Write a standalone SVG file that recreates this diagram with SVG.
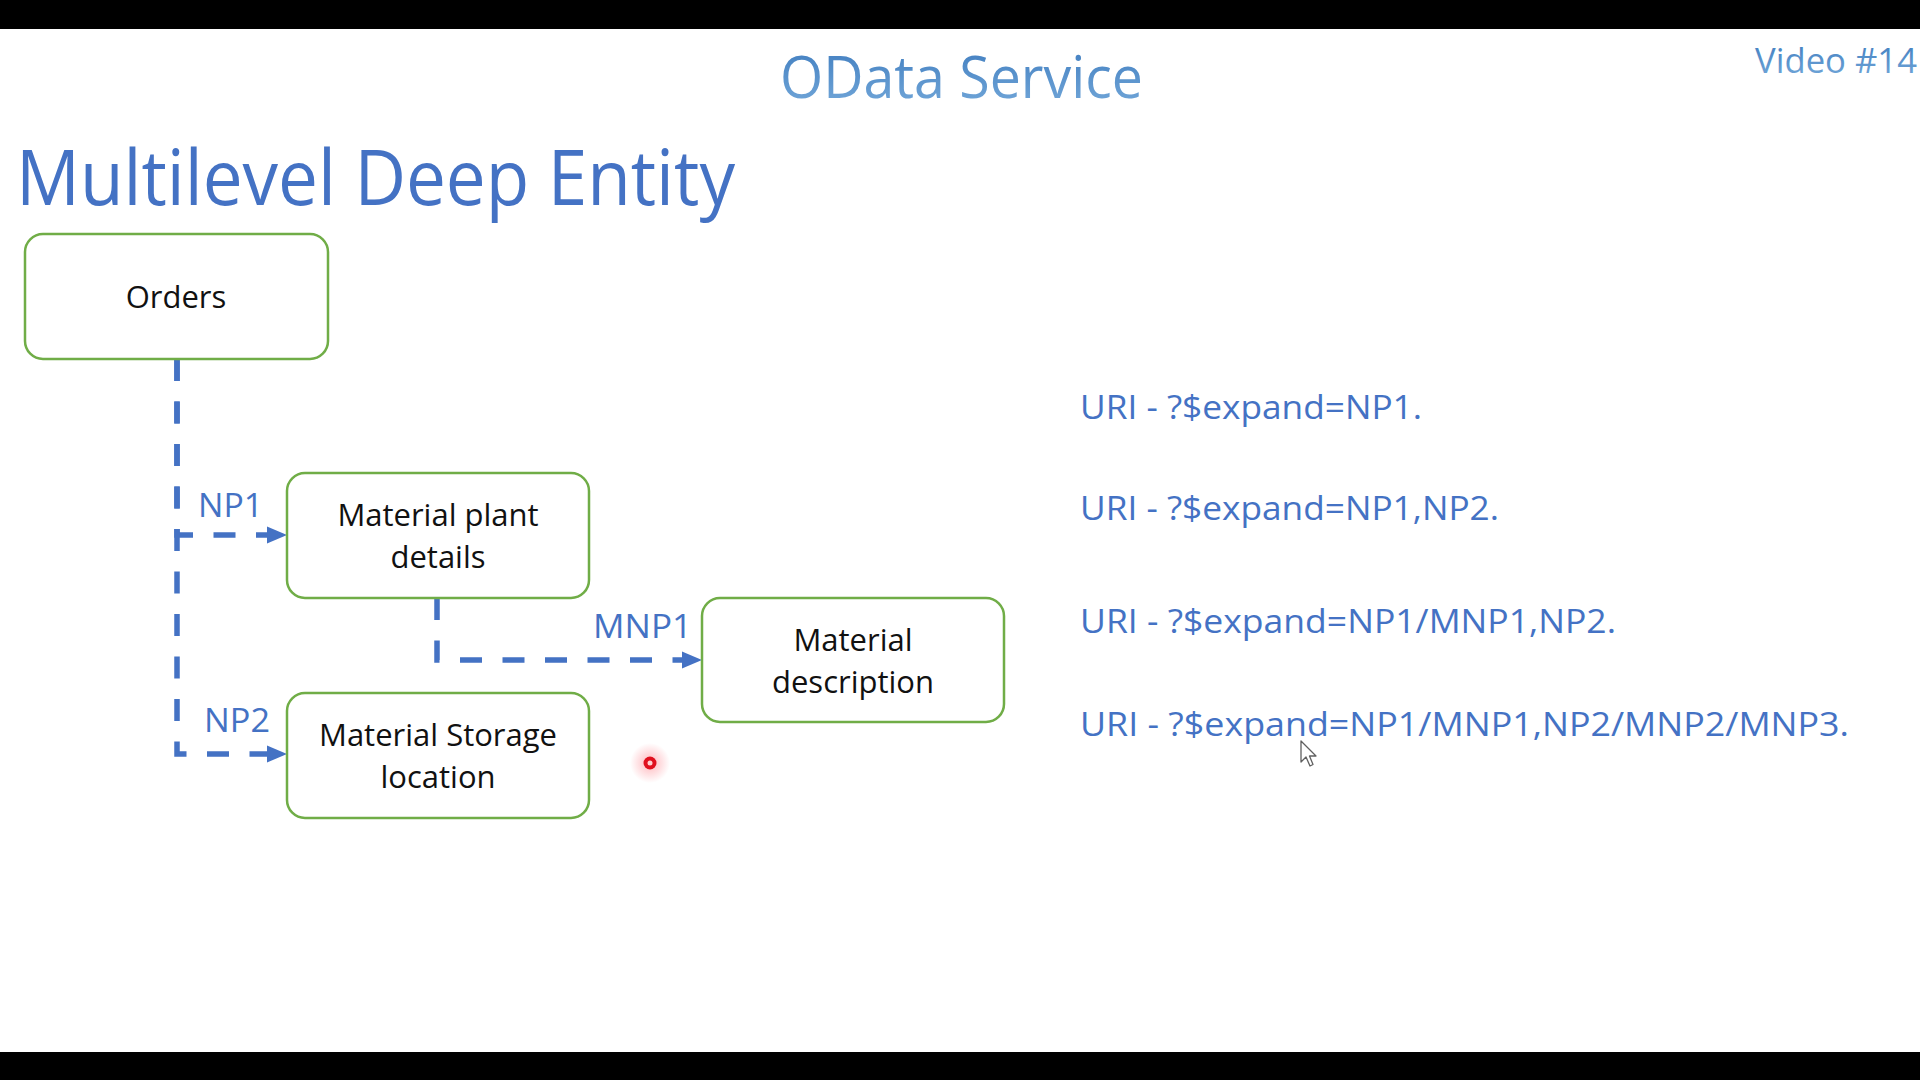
<svg xmlns="http://www.w3.org/2000/svg" width="1920" height="1080" viewBox="0 0 1920 1080">
  <defs>
    <style>
      .box { fill: #ffffff; stroke: #70ad47; stroke-width: 2.5; }
      .boxText { font-family: "Open Sans", "Noto Sans", sans-serif; font-size: 31px; fill: #111111; text-anchor: middle; }
      .lbl { font-family: "Open Sans", "Noto Sans", sans-serif; font-size: 32px; fill: #4472c4; }
      .uri { font-family: "Open Sans", "Noto Sans", sans-serif; font-size: 32px; fill: #4472c4; }
      .conn { fill: none; stroke: #4472c4; stroke-width: 5.5; stroke-dasharray: 22 20.5; marker-end: url(#arrow); }
      .heading { font-family: "Open Sans", "Noto Sans", sans-serif; fill: url(#titleGrad); }
    </style>
    <linearGradient id="titleGrad" x1="0" y1="0" x2="0" y2="1">
      <stop offset="0" stop-color="#3a78bc"/>
      <stop offset="1" stop-color="#78acdc"/>
    </linearGradient>
    <radialGradient id="glow">
      <stop offset="0" stop-color="#ff3040" stop-opacity="0.35"/>
      <stop offset="1" stop-color="#ff3040" stop-opacity="0"/>
    </radialGradient>
    <marker id="arrow" markerUnits="userSpaceOnUse" markerWidth="22" markerHeight="20" refX="0" refY="9" orient="auto" viewBox="0 0 22 18">
      <path d="M0,0.5 L20,9 L0,17.5 z" fill="#4472c4"/>
    </marker>
  </defs>

  <rect x="0" y="0" width="1920" height="1080" fill="#ffffff"/>
  <rect x="0" y="0" width="1920" height="29" fill="#000000"/>
  <rect x="0" y="1052" width="1920" height="28" fill="#000000"/>

  <g id="header">
    <text class="heading" x="780" y="98" font-size="58" textLength="363" lengthAdjust="spacingAndGlyphs">OData Service</text>
    <text class="heading" x="1755" y="73" font-size="35" textLength="162" lengthAdjust="spacingAndGlyphs">Video #14</text>
    <text x="16" y="205" font-family="Open Sans, Noto Sans, sans-serif" font-size="76" fill="#4472c4" textLength="719" lengthAdjust="spacingAndGlyphs">Multilevel Deep Entity</text>
  </g>

  <g id="connectors">
    <path class="conn" d="M177,359 V535 H267"/>
    <path class="conn" d="M177,359 V754 H267"/>
    <path class="conn" d="M437,598 V660 H682"/>
    <text class="lbl" x="198" y="517" textLength="65" lengthAdjust="spacingAndGlyphs">NP1</text>
    <text class="lbl" x="593" y="638" textLength="99" lengthAdjust="spacingAndGlyphs">MNP1</text>
    <text class="lbl" x="204" y="732" textLength="66" lengthAdjust="spacingAndGlyphs">NP2</text>
  </g>

  <g id="orders">
    <rect class="box" x="25" y="234" width="303" height="125" rx="18"/>
    <text class="boxText" x="176" y="308">Orders</text>
  </g>

  <g id="material-plant-details">
    <rect class="box" x="287" y="473" width="302" height="125" rx="18"/>
    <text class="boxText" x="438" y="526">Material plant</text>
    <text class="boxText" x="438" y="568">details</text>
  </g>

  <g id="material-description">
    <rect class="box" x="702" y="598" width="302" height="124" rx="18"/>
    <text class="boxText" x="853" y="651">Material</text>
    <text class="boxText" x="853" y="693">description</text>
  </g>

  <g id="material-storage-location">
    <rect class="box" x="287" y="693" width="302" height="125" rx="18"/>
    <text class="boxText" x="438" y="746">Material Storage</text>
    <text class="boxText" x="438" y="788">location</text>
  </g>

  <g id="uris">
    <text class="uri" x="1080" y="419" textLength="342" lengthAdjust="spacingAndGlyphs">URI - ?$expand=NP1.</text>
    <text class="uri" x="1080" y="520" textLength="419" lengthAdjust="spacingAndGlyphs">URI - ?$expand=NP1,NP2.</text>
    <text class="uri" x="1080" y="633" textLength="536" lengthAdjust="spacingAndGlyphs">URI - ?$expand=NP1/MNP1,NP2.</text>
    <text class="uri" x="1080" y="736" textLength="769" lengthAdjust="spacingAndGlyphs">URI - ?$expand=NP1/MNP1,NP2/MNP2/MNP3.</text>
  </g>

  <g id="pointer-dot">
    <circle cx="650" cy="763" r="20" fill="url(#glow)"/>
    <circle cx="650" cy="763" r="6.5" fill="#e0101e"/>
    <circle cx="650" cy="763" r="2.5" fill="#ffd0d0"/>
  </g>

  <g id="mouse-cursor">
    <polygon points="1301,741 1301,762 1306,757 1310,766 1313,764.5 1309.5,756 1316,756" fill="#ffffff" stroke="#606060" stroke-width="1.3" stroke-linejoin="round"/>
  </g>
</svg>
